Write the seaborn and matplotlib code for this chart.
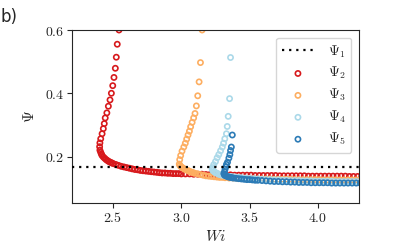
#Recreation of panel b): Psi vs Wi for the five solution branches
import numpy as np
import pandas as pd
import seaborn as sns
import matplotlib.pyplot as plt

# Psi_1 : reference level (dotted)
psi1_wi = [2.2, 4.3]
psi1 = [0.168, 0.168]

# Psi_2 (red): upper branch then lower branch
psi2_wi = [2.544, 2.531, 2.524, 2.517, 2.507, 2.498, 2.488, 2.478, 2.466, 2.455, 2.443, 2.436,
           2.429, 2.420, 2.410, 2.404, 2.402, 2.404, 2.410,
           2.415, 2.42, 2.43, 2.44, 2.45, 2.46, 2.47, 2.48, 2.49, 2.50, 2.52, 2.54, 2.56, 2.58,
           2.60, 2.62, 2.64, 2.66, 2.68, 2.70, 2.72, 2.74, 2.76, 2.78, 2.80, 2.82, 2.84, 2.86,
           2.88, 2.90, 2.92, 2.94, 2.96, 2.98, 3.00, 3.03, 3.06, 3.09, 3.12, 3.15, 3.18, 3.21,
           3.24, 3.27, 3.30, 3.33, 3.36, 3.39, 3.42, 3.45, 3.48, 3.51, 3.54, 3.57, 3.60, 3.63,
           3.66, 3.69, 3.72, 3.75, 3.78, 3.81, 3.84, 3.87, 3.90, 3.93, 3.96, 3.99, 4.02, 4.05,
           4.08, 4.11, 4.14, 4.17, 4.20, 4.23, 4.26, 4.29, 4.32]
psi2 = [0.600, 0.555, 0.514, 0.479, 0.450, 0.424, 0.400, 0.379, 0.359, 0.338, 0.322, 0.304,
        0.288, 0.272, 0.256, 0.243, 0.231, 0.220, 0.213,
        0.208, 0.203, 0.198, 0.194, 0.190, 0.187, 0.184, 0.182, 0.180, 0.178, 0.175, 0.172, 0.169, 0.167,
        0.165, 0.163, 0.161, 0.159, 0.158, 0.156, 0.155, 0.154, 0.153, 0.152, 0.151, 0.150, 0.149, 0.148,
        0.148, 0.147, 0.147, 0.146, 0.146, 0.146, 0.145, 0.145, 0.145, 0.144, 0.144, 0.144, 0.143, 0.143,
        0.143, 0.142, 0.142, 0.142, 0.142, 0.141, 0.141, 0.141, 0.141, 0.141, 0.140, 0.140, 0.140, 0.140,
        0.140, 0.140, 0.139, 0.139, 0.139, 0.139, 0.139, 0.139, 0.139, 0.138, 0.138, 0.138, 0.138, 0.138,
        0.138, 0.138, 0.138, 0.138, 0.138, 0.137, 0.137, 0.137, 0.137]

# Psi_3 (orange)
psi3_wi = [3.152, 3.140, 3.130, 3.120, 3.110, 3.100, 3.090, 3.079, 3.068, 3.059, 3.049, 3.039,
           3.029, 3.018, 3.005, 2.995, 2.988,
           2.985, 2.99, 3.00, 3.01, 3.02, 3.03, 3.04, 3.05, 3.06, 3.07, 3.08, 3.09, 3.10, 3.12,
           3.14, 3.16, 3.18, 3.20, 3.22, 3.24, 3.26, 3.28, 3.30, 3.32, 3.35, 3.38, 3.41, 3.44,
           3.47, 3.50, 3.53, 3.56, 3.59, 3.62, 3.65, 3.68, 3.71, 3.74, 3.77, 3.80, 3.83, 3.86,
           3.89, 3.92, 3.95, 3.98, 4.01, 4.04, 4.07, 4.10, 4.13, 4.16, 4.19, 4.22, 4.25, 4.28, 4.31]
psi3 = [0.600, 0.497, 0.436, 0.392, 0.360, 0.336, 0.322, 0.308, 0.294, 0.280, 0.268, 0.255,
        0.242, 0.230, 0.217, 0.203, 0.190,
        0.176, 0.171, 0.167, 0.164, 0.161, 0.159, 0.157, 0.155, 0.153, 0.151, 0.150, 0.148, 0.147, 0.145,
        0.143, 0.141, 0.139, 0.138, 0.137, 0.136, 0.135, 0.134, 0.134, 0.133, 0.132, 0.132, 0.131, 0.131,
        0.130, 0.130, 0.130, 0.129, 0.129, 0.129, 0.129, 0.128, 0.128, 0.128, 0.128, 0.128, 0.127, 0.127,
        0.127, 0.127, 0.127, 0.127, 0.127, 0.126, 0.126, 0.126, 0.126, 0.126, 0.126, 0.126, 0.126, 0.126, 0.126]

# Psi_4 (light blue)
psi4_wi = [3.360, 3.353, 3.343, 3.336, 3.330, 3.318, 3.309, 3.300, 3.287, 3.274, 3.262, 3.250,
           3.237, 3.228,
           3.226, 3.23, 3.24, 3.25, 3.26, 3.27, 3.28, 3.29, 3.30, 3.32, 3.34, 3.36, 3.38, 3.40,
           3.42, 3.44, 3.47, 3.50, 3.53, 3.56, 3.59, 3.62, 3.65, 3.68, 3.71, 3.74, 3.77, 3.80,
           3.83, 3.86, 3.89, 3.92, 3.95, 3.98, 4.01, 4.04, 4.07, 4.10, 4.13, 4.16, 4.19, 4.22,
           4.25, 4.28, 4.31]
psi4 = [0.513, 0.383, 0.327, 0.295, 0.272, 0.256, 0.242, 0.230, 0.218, 0.206, 0.196, 0.184,
        0.174, 0.165,
        0.160, 0.156, 0.152, 0.149, 0.147, 0.145, 0.143, 0.142, 0.141, 0.139, 0.138, 0.137, 0.136, 0.135,
        0.134, 0.133, 0.132, 0.131, 0.130, 0.129, 0.128, 0.127, 0.127, 0.126, 0.126, 0.125, 0.125, 0.124,
        0.124, 0.124, 0.123, 0.123, 0.123, 0.122, 0.122, 0.122, 0.122, 0.122, 0.121, 0.121, 0.121, 0.121,
        0.121, 0.121, 0.121]

# Psi_5 (dark blue)
psi5_wi = [3.373, 3.366, 3.360, 3.355, 3.348, 3.338, 3.330, 3.326, 3.320, 3.316,
           3.311, 3.315, 3.32, 3.33, 3.34, 3.35, 3.36, 3.37, 3.38, 3.40, 3.42, 3.44, 3.46, 3.48,
           3.50, 3.52, 3.54, 3.56, 3.59, 3.62, 3.65, 3.68, 3.71, 3.74, 3.77, 3.80, 3.83, 3.86,
           3.89, 3.92, 3.95, 3.98, 4.01, 4.04, 4.07, 4.10, 4.13, 4.16, 4.19, 4.22, 4.25, 4.28, 4.31]
psi5 = [0.268, 0.230, 0.219, 0.206, 0.195, 0.182, 0.175, 0.168, 0.160, 0.152,
        0.146, 0.142, 0.140, 0.138, 0.136, 0.135, 0.134, 0.133, 0.132, 0.131, 0.130, 0.129, 0.128, 0.127,
        0.127, 0.126, 0.125, 0.125, 0.124, 0.123, 0.122, 0.121, 0.121, 0.120, 0.120, 0.119, 0.119, 0.118,
        0.118, 0.118, 0.117, 0.117, 0.117, 0.117, 0.117, 0.116, 0.116, 0.116, 0.116, 0.116, 0.116, 0.116, 0.116]

series = [(psi2_wi, psi2, '#d7191c', r'$\Psi_2$'),
          (psi3_wi, psi3, '#fdae61', r'$\Psi_3$'),
          (psi4_wi, psi4, '#abd9e9', r'$\Psi_4$'),
          (psi5_wi, psi5, '#2c7bb6', r'$\Psi_5$')]

x_ticks = [2.5, 3.0, 3.5, 4.0]
x_ticklabels = ['$2.5$', '$3.0$', '$3.5$', '$4.0$']
y_ticks = [0.2, 0.4, 0.6]
y_ticklabels = ['$0.2$', '$0.4$', '$0.6$']

sns.set_style('ticks')
plt.rcParams['mathtext.fontset'] = 'cm'
plt.rcParams['font.family'] = ['DejaVu Sans']

fig = plt.figure(figsize=(3.99, 2.49), dpi=100)
ax = fig.add_axes([0.1805, 0.1847, 0.7192, 0.6948])

sns.lineplot(x=psi1_wi, y=psi1, ax=ax, color='black', linestyle=(0, (1, 2.2)), linewidth=1.6,
             label=r'$\Psi_1$', zorder=3)
for wi, psi, c, lab in series:
    sns.scatterplot(x=wi, y=psi, ax=ax, marker='o', s=14, facecolor='none', edgecolor=c,
                    linewidth=1.2, label=lab)

ax.set_xlim(2.2, 4.3)
ax.set_ylim(0.053, 0.6)
ax.set_xticks(x_ticks, labels=x_ticklabels)
ax.set_yticks(y_ticks, labels=y_ticklabels)
ax.tick_params(labelsize=10, length=3.5, pad=2)
ax.set_xlabel(r'$Wi$', fontsize=11, labelpad=3)
ax.set_ylabel(r'$\Psi$', fontsize=11, labelpad=6)

ax.legend(loc='upper right', fontsize=10, handlelength=2.3, handletextpad=1.0,
          labelspacing=0.4, borderaxespad=0.55, frameon=True)

fig.text(0.0, 0.93, 'b)', fontsize=12, va='center', ha='left')

plt.savefig('out.png', dpi=100)
